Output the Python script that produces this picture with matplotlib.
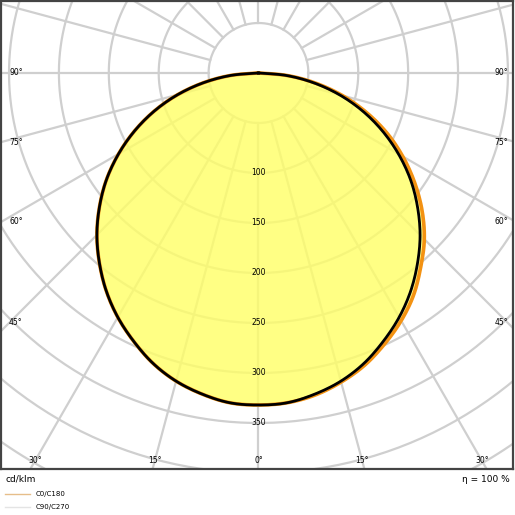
import numpy as np
import matplotlib.pyplot as plt

# luminous intensity, cd/klm, gamma 0..90 in 5 deg steps
gamma = [0, 5, 10, 15, 20, 25, 30, 35, 40, 45, 50, 55, 60, 65, 70, 75, 80, 85, 90]
c90_c270 = [332, 331, 326, 319, 309, 296, 282, 266, 248, 229, 208, 186, 162, 137, 111, 84, 56, 28, 0]
c0_c180 = [332, 331, 327, 320, 311, 299, 286, 271, 253, 235, 214, 191, 167, 142, 115, 87, 58, 29, 0]

ring_labels = [100, 150, 200, 250, 300, 350]
side_labels = [90, 75, 60, 45]
bottom_labels = [30, 15, 0]


def smooth(x, y, n=12):
    # Catmull-Rom drawing of the path through the given points
    p = np.column_stack([x, y])
    p = np.vstack([p[0], p, p[-1]])
    out = []
    s = np.linspace(0, 1, n, endpoint=False)[:, None]
    for i in range(1, len(p) - 2):
        p0, p1, p2, p3 = p[i - 1], p[i], p[i + 1], p[i + 2]
        out.append(0.5 * (2 * p1 + (-p0 + p2) * s + (2 * p0 - 5 * p1 + 4 * p2 - p3) * s ** 2
                          + (-p0 + 3 * p1 - 3 * p2 + p3) * s ** 3))
    out.append(p[-2][None])
    out = np.vstack(out)
    return out[:, 0], out[:, 1]


fig = plt.figure(figsize=(5.15, 5.15), dpi=100)
ax = fig.add_axes([0.002, 46 / 515, 0.994, 468 / 515])
ax.set_xlim(-258, 255)
ax.set_ylim(-396, 72)
ax.set_xticks([])
ax.set_yticks([])
for s in ax.spines.values():
    s.set_color("#444444")
    s.set_linewidth(1.6)

grid_c = "#cfcfcf"
t = np.linspace(0, 2 * np.pi, 400)
for r in range(50, 501, 50):
    ax.plot(r * np.cos(t), r * np.sin(t), color=grid_c, lw=1.6, zorder=1)
for a in range(0, 360, 15):
    ar = np.radians(a)
    ax.plot([50 * np.sin(ar), 600 * np.sin(ar)], [-50 * np.cos(ar), -600 * np.cos(ar)],
            color=grid_c, lw=1.6, zorder=1)


def curve(vals, sign):
    g = np.radians(gamma)
    v = np.array(vals)
    return sign * v * np.sin(g), -v * np.cos(g)


xl, yl = curve(c90_c270, -1)
xr, yr = curve(c90_c270, 1)
xb, yb = smooth(np.concatenate([xl[::-1], xr[1:]]), np.concatenate([yl[::-1], yr[1:]]))
xr2, yr2 = curve(c0_c180, 1)
xo, yo = smooth(np.concatenate([xl[::-1], xr2[1:]]), np.concatenate([yl[::-1], yr2[1:]]))

ax.fill(xo, yo, color="#ffff66", alpha=0.8, lw=0, zorder=2)
ax.plot(xo, yo, color="#f39212", lw=2.6, zorder=3)
ax.plot(xb, yb, color="black", lw=2.0, zorder=4)

for r in ring_labels:
    ax.text(0, -r, str(r), ha="center", va="center", fontsize=5.5, zorder=5)
for a in side_labels:
    y = -258 / np.tan(np.radians(a)) if a != 90 else 0
    y = max(y, -250)
    for sx, ha in [(-250, "left"), (250, "right")]:
        ax.text(sx, y, f"{a}°", ha=ha, va="center", fontsize=5.5, zorder=5)
for a in bottom_labels:
    x = 388 * np.tan(np.radians(a))
    for sx in ([1] if a == 0 else [-1, 1]):
        ax.text(sx * x, -388, f"{a}°", ha="center", va="center", fontsize=5.5, zorder=5)

fig.text(5 / 515, 1 - 479 / 515, "cd/klm", fontsize=6.5, va="center")
fig.text(510 / 515, 1 - 479 / 515, "η = 100 %", fontsize=6.5, va="center", ha="right")
fig.add_artist(plt.Line2D([5 / 515, 30 / 515], [1 - 494 / 515] * 2, color="#e6be8a", lw=1))
fig.add_artist(plt.Line2D([5 / 515, 30 / 515], [1 - 507 / 515] * 2, color="#e4e4e4", lw=1))
fig.text(36 / 515, 1 - 494 / 515, "C0/C180", fontsize=5, va="center")
fig.text(36 / 515, 1 - 507 / 515, "C90/C270", fontsize=5, va="center")

fig.savefig("out.png", dpi=100)
